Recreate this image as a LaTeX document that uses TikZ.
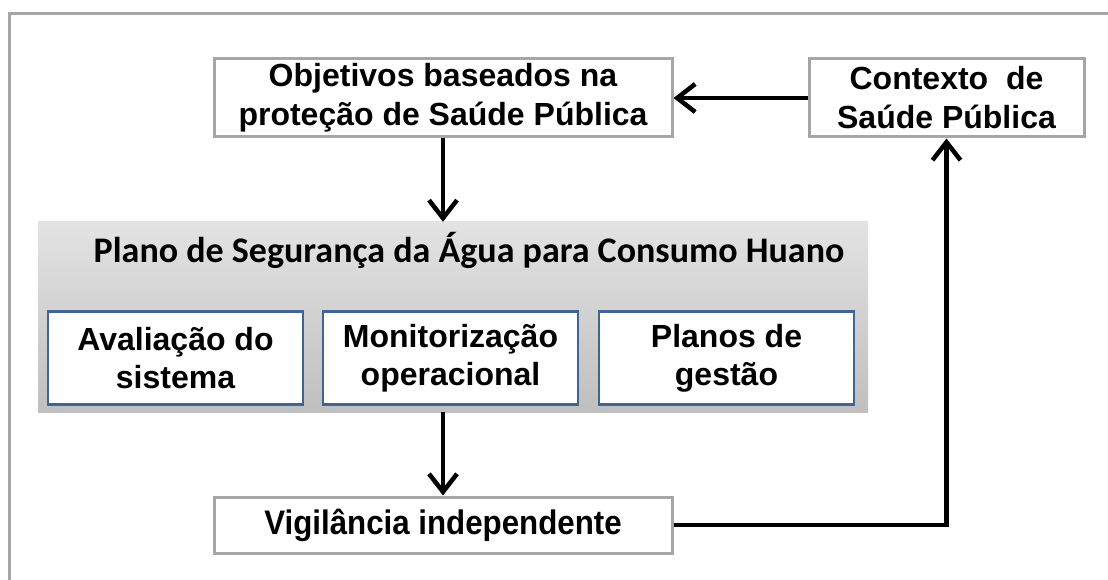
\documentclass[tikz,border=0pt]{standalone}
\usepackage{fontspec}
\setmainfont{Liberation Sans}
\newfontfamily\calfont{Carlito}
\newfontfamily\narrowfont[FakeStretch=0.92]{Liberation Sans}
\usetikzlibrary{arrows.meta}
\definecolor{framegray}{HTML}{A6A6A6}
\definecolor{boxblue}{HTML}{3F6495}
\tikzset{
  graybox/.style={draw=framegray, line width=3pt, fill=white, align=center,
    font=\fontsize{32}{39}\selectfont\bfseries, inner sep=0pt},
  bluebox/.style={draw=boxblue, line width=2.2pt, fill=white, align=center,
    font=\fontsize{32}{38}\selectfont\bfseries, inner sep=0pt,
    minimum width=255pt, minimum height=93pt},
  conn/.style={line width=4.5pt, -{Straight Barb[length=18pt,width=28pt]}},
}
\begin{document}
\begin{tikzpicture}[x=1pt,y=-1pt]
\useasboundingbox (0,0) rectangle (1108,580);
\fill[white] (0,0) rectangle (1108,580);
% outer frame (extends beyond the picture)
\draw[framegray, line width=3pt] (9,590) -- (9,14) -- (1120,14);
% panel
\node[shade, top color=black!11, bottom color=black!25, inner sep=0pt,
  minimum width=830pt, minimum height=190pt] (panel) at (453,317) {};
\node[font=\calfont\fontsize{36}{40}\selectfont\bfseries, inner sep=0pt] (title) at (469,250)
  {Plano de Segurança da Água para Consumo Huano};
\node[bluebox] (aval) at (175.5,358) {Avaliação do\\sistema};
\node[bluebox] (moni) at (450.5,358) {Monitorização\\operacional};
\node[bluebox] (plan) at (726.5,358) {Planos de\\gestão};
% top boxes
\node[graybox, minimum width=458pt, minimum height=78pt] (obj) at (443,98)
  {Objetivos baseados na\\proteção de Saúde Pública};
\node[graybox, minimum width=275pt, minimum height=78pt] (ctx) at (946.5,98)
  {Contexto~ de\\Saúde Pública};
\node[graybox, minimum width=458pt, minimum height=56pt,
  font=\narrowfont\fontsize{34}{38}\selectfont\bfseries] (vig) at (443,525)
  {Vigilância independente};
% connectors
\draw[conn] (ctx.west) -- (obj.east);
\draw[conn] (obj.south) -- (obj.south |- panel.north);
\draw[conn] (vig.north |- panel.south) -- (vig.north);
\draw[conn] (vig.east) -| (ctx.south);
\end{tikzpicture}
\end{document}
